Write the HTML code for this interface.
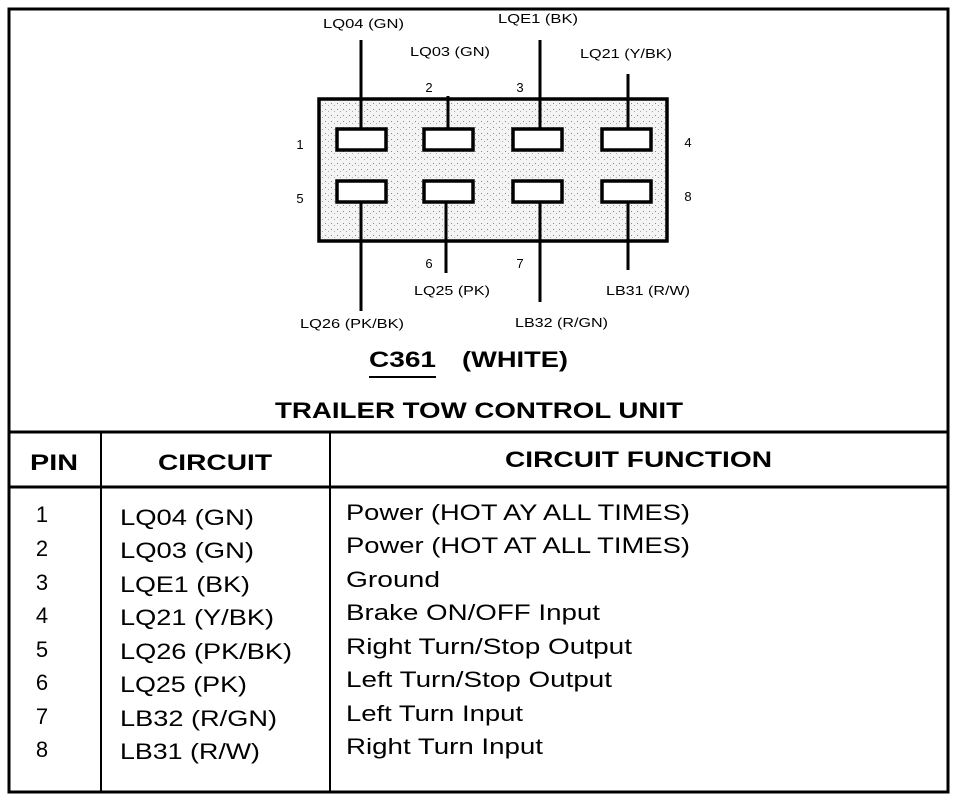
<!DOCTYPE html>
<html><head><style>
body{margin:0;background:#fff;}
svg{display:block;font-family:"Liberation Sans",Arial,sans-serif;}
</style></head><body>
<svg width="960" height="800" viewBox="0 0 960 800" xmlns="http://www.w3.org/2000/svg">
<defs>
<pattern id="dots" width="6" height="6" patternUnits="userSpaceOnUse">
<rect width="6" height="6" fill="#f4f4f4"/>
<rect x="1" y="1" width="1" height="1" fill="#888"/>
<rect x="4" y="3" width="1" height="1" fill="#aaa"/>
</pattern>
</defs>
<rect x="9" y="9" width="939" height="783" fill="none" stroke="#000" stroke-width="3"/>
<line x1="9" y1="432" x2="948" y2="432" stroke="#000" stroke-width="3"/>
<line x1="9" y1="487" x2="948" y2="487" stroke="#000" stroke-width="3"/>
<line x1="101" y1="432" x2="101" y2="792" stroke="#000" stroke-width="2"/>
<line x1="330" y1="432" x2="330" y2="792" stroke="#000" stroke-width="2"/>

<rect x="319" y="99" width="348" height="142" fill="url(#dots)" stroke="#000" stroke-width="3.5"/>
<g stroke="#000" stroke-width="3.5" fill="#fff">
<rect x="337" y="129" width="49" height="21"/>
<rect x="424" y="129" width="49" height="21"/>
<rect x="513" y="129" width="49" height="21"/>
<rect x="602" y="129" width="49" height="21"/>
<rect x="337" y="181" width="49" height="21"/>
<rect x="424" y="181" width="49" height="21"/>
<rect x="513" y="181" width="49" height="21"/>
<rect x="602" y="181" width="49" height="21"/>
</g>
<g stroke="#000" stroke-width="3">
<line x1="361" y1="40" x2="361" y2="128"/>
<line x1="448" y1="96" x2="448" y2="128"/>
<line x1="540" y1="40" x2="540" y2="128"/>
<line x1="628" y1="74" x2="628" y2="128"/>
<line x1="361" y1="203" x2="361" y2="311"/>
<line x1="446" y1="203" x2="446" y2="273"/>
<line x1="540" y1="203" x2="540" y2="302"/>
<line x1="628" y1="203" x2="628" y2="270"/>
</g>
<g font-size="13" fill="#000" lengthAdjust="spacingAndGlyphs">
<text x="323" y="28" textLength="81" lengthAdjust="spacingAndGlyphs">LQ04 (GN)</text>
<text x="410" y="56" textLength="80" lengthAdjust="spacingAndGlyphs">LQ03 (GN)</text>
<text x="498" y="23" textLength="80" lengthAdjust="spacingAndGlyphs">LQE1 (BK)</text>
<text x="580" y="58" textLength="92" lengthAdjust="spacingAndGlyphs">LQ21 (Y/BK)</text>
<text x="429" y="92" text-anchor="middle">2</text>
<text x="520" y="92" text-anchor="middle">3</text>
<text x="300" y="149" text-anchor="middle">1</text>
<text x="688" y="147" text-anchor="middle">4</text>
<text x="300" y="203" text-anchor="middle">5</text>
<text x="688" y="201" text-anchor="middle">8</text>
<text x="429" y="268" text-anchor="middle">6</text>
<text x="520" y="268" text-anchor="middle">7</text>
<text x="414" y="295" textLength="76" lengthAdjust="spacingAndGlyphs">LQ25 (PK)</text>
<text x="606" y="295" textLength="84" lengthAdjust="spacingAndGlyphs">LB31 (R/W)</text>
<text x="300" y="328" textLength="104" lengthAdjust="spacingAndGlyphs">LQ26 (PK/BK)</text>
<text x="515" y="327" textLength="93" lengthAdjust="spacingAndGlyphs">LB32 (R/GN)</text>
</g>
<g font-weight="bold" font-size="22" fill="#000">
<text x="369" y="367" textLength="67" lengthAdjust="spacingAndGlyphs">C361</text>
<text x="462" y="367" textLength="106" lengthAdjust="spacingAndGlyphs">(WHITE)</text>
<text x="275" y="418" textLength="408" lengthAdjust="spacingAndGlyphs">TRAILER TOW CONTROL UNIT</text>
<text x="30" y="470" textLength="48" lengthAdjust="spacingAndGlyphs">PIN</text>
<text x="158" y="470" textLength="114" lengthAdjust="spacingAndGlyphs">CIRCUIT</text>
<text x="505" y="467" textLength="267" lengthAdjust="spacingAndGlyphs">CIRCUIT FUNCTION</text>
</g>
<line x1="369" y1="377" x2="436" y2="377" stroke="#000" stroke-width="2"/>
<g font-size="22" fill="#000">
<text x="42" y="522" text-anchor="middle">1</text>
<text x="42" y="556" text-anchor="middle">2</text>
<text x="42" y="590" text-anchor="middle">3</text>
<text x="42" y="623" text-anchor="middle">4</text>
<text x="42" y="657" text-anchor="middle">5</text>
<text x="42" y="690" text-anchor="middle">6</text>
<text x="42" y="724" text-anchor="middle">7</text>
<text x="42" y="757" text-anchor="middle">8</text>
<text x="120" y="525" textLength="134" lengthAdjust="spacingAndGlyphs">LQ04 (GN)</text>
<text x="120" y="558" textLength="134" lengthAdjust="spacingAndGlyphs">LQ03 (GN)</text>
<text x="120" y="592" textLength="130" lengthAdjust="spacingAndGlyphs">LQE1 (BK)</text>
<text x="120" y="625" textLength="154" lengthAdjust="spacingAndGlyphs">LQ21 (Y/BK)</text>
<text x="120" y="659" textLength="172" lengthAdjust="spacingAndGlyphs">LQ26 (PK/BK)</text>
<text x="120" y="692" textLength="127" lengthAdjust="spacingAndGlyphs">LQ25 (PK)</text>
<text x="120" y="726" textLength="157" lengthAdjust="spacingAndGlyphs">LB32 (R/GN)</text>
<text x="120" y="759" textLength="140" lengthAdjust="spacingAndGlyphs">LB31 (R/W)</text>
<text x="346" y="520" textLength="344" lengthAdjust="spacingAndGlyphs">Power (HOT AY ALL TIMES)</text>
<text x="346" y="553" textLength="344" lengthAdjust="spacingAndGlyphs">Power (HOT AT ALL TIMES)</text>
<text x="346" y="587" textLength="94" lengthAdjust="spacingAndGlyphs">Ground</text>
<text x="346" y="620" textLength="254" lengthAdjust="spacingAndGlyphs">Brake ON/OFF Input</text>
<text x="346" y="654" textLength="286" lengthAdjust="spacingAndGlyphs">Right Turn/Stop Output</text>
<text x="346" y="687" textLength="266" lengthAdjust="spacingAndGlyphs">Left Turn/Stop Output</text>
<text x="346" y="721" textLength="177" lengthAdjust="spacingAndGlyphs">Left Turn Input</text>
<text x="346" y="754" textLength="197" lengthAdjust="spacingAndGlyphs">Right Turn Input</text>
</g>
</svg>
</body></html>
